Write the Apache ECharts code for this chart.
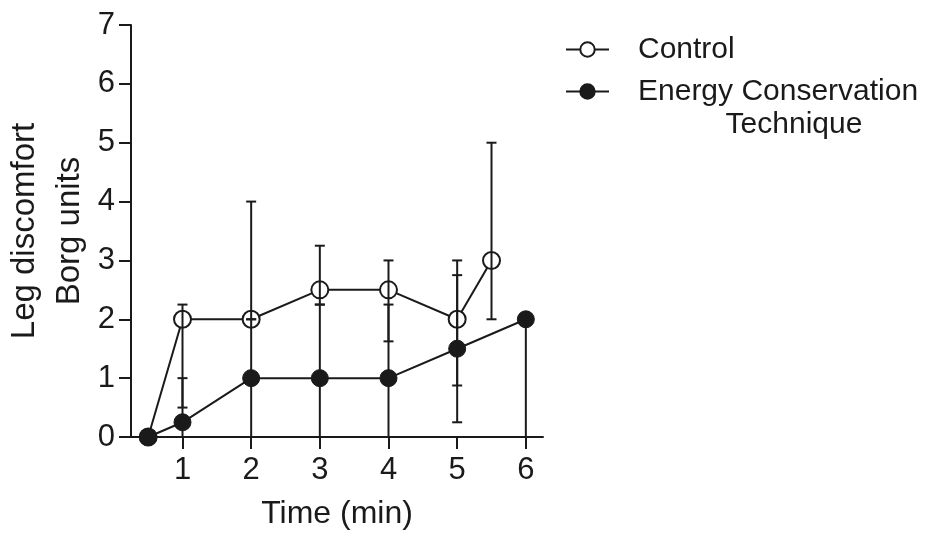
<!DOCTYPE html>
<html>
<head>
<meta charset="utf-8">
<script src="https://cdn.jsdelivr.net/npm/echarts@6/dist/echarts.min.js"></script>
<style>html,body{margin:0;padding:0;background:#fff}#c{width:951px;height:533px}</style>
</head>
<body>
<div id="c"></div>
<script>
var xTicks = [1, 2, 3, 4, 5, 6];
var yTicks = [0, 1, 2, 3, 4, 5, 6, 7];

var ctrlX = [0.5, 1, 2, 3, 4, 5, 5.5];
var ctrlY = [0, 2, 2, 2.5, 2.5, 2, 3];
var ctrlLow = [0, 0.5, 2, 2.25, 1.625, 0.875, 2];
var ctrlHigh = [0, 2.25, 4, 3.25, 3, 3, 5];

var ectX = [0.5, 1, 2, 3, 4, 5, 6];
var ectY = [0, 0.25, 1, 1, 1, 1.5, 2];
var ectLow = [0, 0, 0, 0, 0, 0.25, 0];
var ectHigh = [0, 1, 2, 2.25, 2.25, 2.75, 2];

var INK = '#1a1a1a';
var FONT = 'Liberation Sans, Arial, sans-serif';

function pts(xs, ys) { return xs.map(function (x, i) { return [x, ys[i]]; }); }
function errs(xs, lo, hi) { return xs.map(function (x, i) { return [x, lo[i], hi[i]]; }); }

function errRender(params, api) {
  var x = api.value(0);
  var lo = api.coord([x, api.value(1)]);
  var hi = api.coord([x, api.value(2)]);
  var cw = 5;
  var st = { stroke: INK, lineWidth: 2 };
  var children = [];
  if (Math.abs(hi[1] - lo[1]) < 0.5) return { type: 'group', children: [] };
  children.push({ type: 'line', shape: { x1: lo[0], y1: lo[1], x2: hi[0], y2: hi[1] }, style: st });
  children.push({ type: 'line', shape: { x1: hi[0] - cw, y1: hi[1], x2: hi[0] + cw, y2: hi[1] }, style: st });
  children.push({ type: 'line', shape: { x1: lo[0] - cw, y1: lo[1], x2: lo[0] + cw, y2: lo[1] }, style: st });
  return { type: 'group', children: children };
}

var chart = echarts.init(document.getElementById('c'));
var legendText = {
  fontSize: 30, fontFamily: FONT, color: INK, lineHeight: 33,
  padding: [0, 0, 0, 24],
  rich: {
    e: { fontSize: 30, fontFamily: FONT, lineHeight: 33 },
    c: { fontSize: 30, fontFamily: FONT, lineHeight: 33, width: 312, align: 'center', color: INK }
  }
};
chart.setOption({
  animation: false,
  backgroundColor: '#fff',
  grid: { left: 131, top: 25, right: 408, bottom: 96, containLabel: false, outerBoundsMode: 'none' },
  legend: [
    {
      data: ['Control'], orient: 'vertical', left: 565, top: 33, padding: 0,
      itemWidth: 43, itemHeight: 18, textStyle: legendText, selectedMode: false
    },
    {
      data: ['Energy Conservation Technique'], orient: 'vertical', left: 565, top: 42, padding: 0,
      itemWidth: 43, itemHeight: 18, textStyle: legendText, selectedMode: false,
      formatter: function () { return '{e| }\nEnergy Conservation\n{c|Technique}'; }
    }
  ],
  xAxis: {
    type: 'value', min: 0.25, max: 6.25,
    name: 'Time (min)', nameLocation: 'middle', nameGap: 61,
    nameTextStyle: { fontSize: 32, fontFamily: FONT, color: INK },
    axisLine: { show: true, lineStyle: { color: INK, width: 2 } },
    axisTick: { show: true, length: 12, lineStyle: { color: INK, width: 2 }, customValues: xTicks },
    axisLabel: { fontSize: 31, fontFamily: FONT, color: INK, margin: 18, customValues: xTicks },
    splitLine: { show: false }
  },
  yAxis: {
    type: 'value', min: 0, max: 7, interval: 1,
    name: 'Leg discomfort\nBorg units', nameLocation: 'middle', nameGap: 39,
    nameTextStyle: { fontSize: 33, fontFamily: FONT, color: INK, lineHeight: 45 },
    axisLine: { show: true, lineStyle: { color: INK, width: 2 } },
    axisTick: { show: true, length: 12, lineStyle: { color: INK, width: 2 } },
    axisLabel: { fontSize: 31, fontFamily: FONT, color: INK, margin: 16 },
    splitLine: { show: false }
  },
  series: [
    {
      name: 'Control', type: 'line', data: pts(ctrlX, ctrlY),
      symbol: 'circle', symbolSize: 17, showAllSymbol: true,
      lineStyle: { color: INK, width: 2 },
      itemStyle: { color: '#fff', borderColor: INK, borderWidth: 2 },
      z: 3
    },
    {
      name: 'Energy Conservation Technique', type: 'line', data: pts(ectX, ectY),
      symbol: 'circle', symbolSize: 17, showAllSymbol: true,
      lineStyle: { color: INK, width: 2 },
      itemStyle: { color: INK, borderColor: INK, borderWidth: 1 },
      z: 3
    },
    {
      type: 'custom', name: 'ctrlErr', data: errs(ctrlX, ctrlLow, ctrlHigh),
      renderItem: errRender, z: 4, silent: true
    },
    {
      type: 'custom', name: 'ectErr', data: errs(ectX, ectLow, ectHigh),
      renderItem: errRender, z: 4, silent: true
    }
  ]
});
</script>
</body>
</html>
